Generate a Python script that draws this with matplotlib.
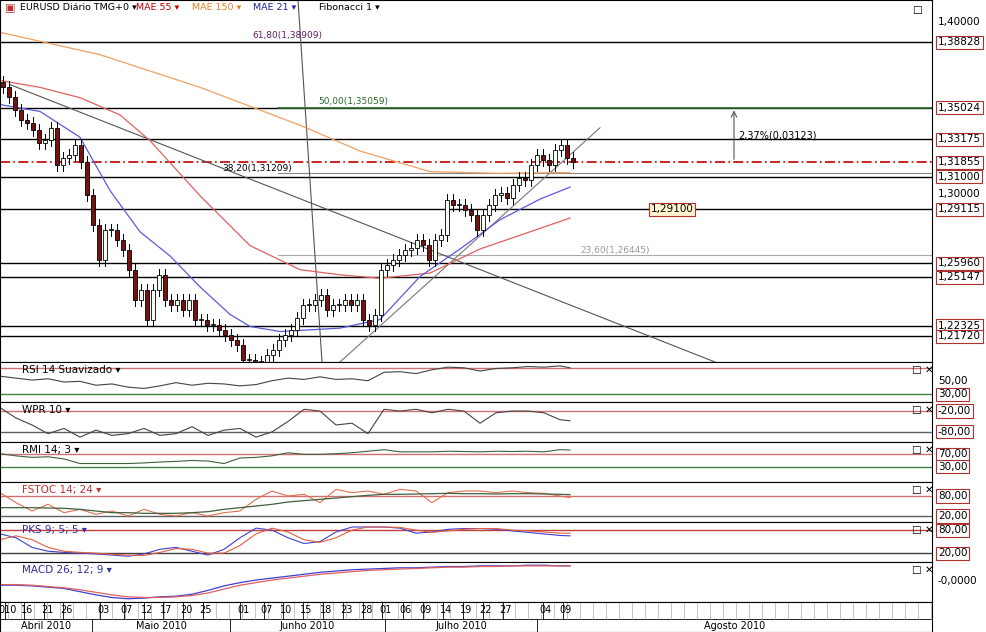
import matplotlib.pyplot as plt

# ---- data ----
closes = [1.3622, 1.3564, 1.3489, 1.3431, 1.3413, 1.3373, 1.3297, 1.3314, 1.3384, 1.3169,
          1.3210, 1.3227, 1.3285, 1.3187, 1.2995, 1.2821, 1.2617, 1.2791, 1.2791, 1.2733,
          1.2675, 1.2559, 1.2384, 1.2442, 1.2268, 1.2442, 1.2530, 1.2384, 1.2355, 1.2384,
          1.2326, 1.2384, 1.2268, 1.2268, 1.2239, 1.2239, 1.2210, 1.2181, 1.2152, 1.2123,
          1.2035, 1.2035, 1.2024, 1.2024, 1.2064, 1.2093, 1.2152, 1.2181, 1.2210, 1.2280,
          1.2355, 1.2355, 1.2384, 1.2413, 1.2326, 1.2355, 1.2355, 1.2384, 1.2355, 1.2384,
          1.2268, 1.2239, 1.2297, 1.2559, 1.2588, 1.2617, 1.2646, 1.2675, 1.2687, 1.2733,
          1.2704, 1.2617, 1.2733, 1.2762, 1.2966, 1.2937, 1.2937, 1.2908, 1.2879, 1.2791,
          1.2879, 1.2937, 1.2995, 1.3007, 1.2978, 1.3053, 1.3094, 1.3082, 1.3169, 1.3227,
          1.3198, 1.3169, 1.3256, 1.3285, 1.3210, 1.3187]

levels = [1.38828, 1.35024, 1.33175, 1.31000, 1.29115, 1.25960, 1.25147, 1.22325, 1.21720]
level_labels = ["1,38828", "1,35024", "1,33175", "1,31000", "1,29115", "1,25960", "1,25147", "1,22325", "1,21720"]
current = 1.31855

ma150_x = [0, 100, 200, 300, 360, 430, 500, 570]
ma150_y = [1.3940, 1.3810, 1.3620, 1.3400, 1.3250, 1.3130, 1.3120, 1.3125]
ma55_x = [0, 40, 80, 120, 150, 200, 250, 300, 340, 380, 430, 480, 530, 570]
ma55_y = [1.3660, 1.3620, 1.3560, 1.3460, 1.3310, 1.2990, 1.2700, 1.2560, 1.2530, 1.2510, 1.2540, 1.2680, 1.2780, 1.2860]
ma21_x = [0, 40, 80, 110, 140, 170, 200, 230, 250, 280, 310, 340, 380, 420, 460, 500, 540, 570]
ma21_y = [1.3520, 1.3480, 1.3330, 1.3020, 1.2780, 1.2640, 1.2460, 1.2300, 1.2230, 1.2200, 1.2210, 1.2220, 1.2270, 1.2520, 1.2680, 1.2850, 1.2970, 1.3040]

ind_x = [0, 16, 32, 48, 64, 80, 96, 112, 128, 144, 160, 176, 192, 208, 224, 240, 256, 272, 288, 304,
         320, 336, 352, 368, 384, 400, 416, 432, 448, 464, 480, 496, 512, 528, 544, 560, 570]
rsi = [58, 55, 52, 54, 49, 50, 44, 46, 41, 39, 43, 48, 44, 47, 46, 43, 45, 51, 55, 53,
       57, 53, 54, 51, 64, 65, 62, 68, 72, 71, 66, 70, 71, 73, 72, 74, 71]
wpr = [-10, -40, -60, -85, -70, -95, -75, -90, -85, -70, -90, -85, -65, -90, -75, -70, -95, -80, -50, -15,
       -20, -60, -55, -85, -15, -20, -15, -25, -15, -20, -55, -25, -20, -20, -25, -45, -48]
rmi = [72, 65, 60, 62, 55, 40, 40, 40, 40, 42, 45, 47, 50, 48, 40, 58, 60, 65, 75, 70,
       70, 72, 75, 80, 85, 78, 78, 78, 80, 79, 78, 80, 79, 80, 78, 85, 84]
fst_fast = [90, 60, 35, 55, 30, 40, 25, 35, 20, 40, 25, 20, 30, 20, 30, 35, 70, 95, 80, 85,
            60, 100, 90, 95, 85, 100, 95, 60, 90, 95, 95, 90, 95, 90, 88, 80, 75]
fst_slow = [45, 45, 45, 44, 43, 40, 35, 30, 30, 28, 28, 28, 30, 33, 40, 45, 50, 55, 62, 66,
            70, 74, 78, 82, 85, 85, 86, 87, 88, 87, 87, 86, 87, 87, 86, 85, 84]
pks_blue = [70, 60, 35, 25, 22, 20, 18, 15, 12, 18, 30, 35, 25, 15, 30, 60, 85, 80, 60, 45,
            50, 75, 88, 88, 88, 85, 72, 75, 82, 84, 84, 82, 78, 74, 70, 66, 65]
pks_red = [55, 65, 55, 35, 25, 22, 20, 17, 15, 14, 22, 32, 30, 20, 20, 40, 70, 85, 75, 55,
           48, 60, 80, 88, 88, 87, 80, 74, 78, 82, 84, 84, 80, 78, 75, 72, 72]
macd_blue = [-0.006, -0.006, -0.007, -0.009, -0.011, -0.016, -0.021, -0.025, -0.027, -0.026, -0.024, -0.023, -0.020, -0.014, -0.007,
             -0.002, 0.002, 0.005, 0.008, 0.011, 0.014, 0.016, 0.018, 0.019, 0.020, 0.021, 0.021, 0.022, 0.023, 0.023,
             0.024, 0.024, 0.024, 0.025, 0.025, 0.024, 0.024]
macd_red = [-0.005, -0.005, -0.006, -0.008, -0.010, -0.013, -0.017, -0.021, -0.024, -0.025, -0.025, -0.024, -0.022, -0.018, -0.012,
            -0.006, -0.002, 0.002, 0.005, 0.008, 0.011, 0.013, 0.015, 0.017, 0.018, 0.019, 0.020, 0.021, 0.022, 0.022,
            0.023, 0.023, 0.024, 0.024, 0.024, 0.024, 0.024]

day_ticks = ["010", "16", "21", "26", "03", "07", "12", "17", "20", "25", "01", "07", "10", "15", "18", "23", "28",
             "01", "06", "09", "14", "19", "22", "27", "04", "09"]
day_x = [8, 27, 47, 66, 103, 127, 147, 166, 186, 206, 243, 267, 286, 306, 326, 346, 366,
         385, 406, 426, 446, 466, 486, 506, 546, 566]
months = ["Abril 2010", "Maio 2010", "Junho 2010", "Julho 2010", "Agosto 2010"]
month_x = [0, 92, 230, 385, 537, 932]

W, H = 986, 632
fig = plt.figure(figsize=(9.86, 6.32), dpi=100, facecolor="white")


def pax(x0, y0, x1, y1):
    ax = fig.add_axes([x0 / W, 1 - y1 / H, (x1 - x0) / W, (y1 - y0) / H])
    ax.set_xlim(0, 932)
    ax.set_xticks([])
    ax.set_yticks([])
    for s in ax.spines.values():
        s.set_color("black")
        s.set_linewidth(0.8)
    return ax


def tag(y, text, boxed=True, ec="#b03030"):
    fig.text(938 / W, 1 - y / H, text, fontsize=7.5, va="center", ha="left",
             bbox=dict(boxstyle="square,pad=0.15", fc="white", ec=ec, lw=0.8) if boxed else None)


# ---- main price panel ----
P_TOP, P_BOT = 1.4128, 1.2023
ax = pax(0, 0, 932, 362)
ax.set_ylim(P_BOT, P_TOP)

def py(p):
    return (P_TOP - p) / (P_TOP - P_BOT) * 362

for lv, lb in zip(levels, level_labels):
    ax.axhline(lv, color="black", lw=1.0)
    tag(py(lv), lb)
ax.axhline(1.35024, xmin=278 / 932, color="#2a6a2a", lw=1.2)
ax.axhline(current, color="#c00000", lw=1.2, ls=(0, (6, 2, 1, 2)))
tag(py(current), "1,31855")
tag(py(1.40), "1,40000", boxed=False)
tag(py(1.30), "1,30000", boxed=False)
ax.plot([278, 932], [1.31209, 1.31209], color="#888888", lw=0.8)
ax.plot([278, 932], [1.26445, 1.26445], color="#aaaaaa", lw=0.8)
ax.text(252, 1.38909 + 0.0015, "61,80(1,38909)", fontsize=6.5, color="#602060")
ax.text(318, 1.35059 + 0.002, "50,00(1,35059)", fontsize=6.5, color="#2a6a2a")
ax.text(222, 1.31209 + 0.0015, "38,20(1,31209)", fontsize=6.5, color="black")
ax.text(580, 1.26445 + 0.0015, "23,60(1,26445)", fontsize=6.5, color="#999999")
ax.text(672, 1.29100, "1,29100", fontsize=7.5, ha="center", va="center",
        bbox=dict(boxstyle="square,pad=0.15", fc="#fff3d0", ec="#b03030", lw=0.8))
ax.annotate("", xy=(734, 1.35024), xytext=(734, 1.31855),
            arrowprops=dict(arrowstyle="->", color="#555555", lw=0.8))
ax.text(738, 1.334, "2,37%(0,03123)", fontsize=7, va="center")
ax.text(912, 0.985, "□", transform=ax.get_xaxis_transform(), fontsize=7.5, va="top")

# trendlines
ax.plot([10, 715], [1.3636, 1.2023], color="#555555", lw=0.8)
ax.plot([340, 600], [1.2023, 1.3385], color="#777777", lw=0.8)
ax.plot([298, 322], [P_TOP, P_BOT], color="#555555", lw=0.8)

ax.plot(ma150_x, ma150_y, color="#f0a060", lw=0.9)
ax.plot(ma55_x, ma55_y, color="#e06060", lw=0.9)
ax.plot(ma21_x, ma21_y, color="#5a5adc", lw=0.9)

for i, c in enumerate(closes):
    o = closes[i - 1] if i else c + 0.003
    x = 3 + 6 * i
    hi, lo = max(o, c) + 0.0035, min(o, c) - 0.0035
    ax.plot([x, x], [lo, hi], color="black", lw=0.7, zorder=3)
    up = c >= o
    ax.bar(x, abs(c - o) or 0.0005, bottom=min(o, c), width=3.5,
           color="#f4fff0" if up else "#7a1010", edgecolor="black", lw=0.6, zorder=4)

fig.text(0.005, 1 - 8 / H, "▣", fontsize=8, color="#c03030", va="center")
hdr = [("EURUSD Diário TMG+0 ▾", "black", 20), ("MAE 55 ▾", "#c00000", 136),
       ("MAE 150 ▾", "#e08020", 192), ("MAE 21 ▾", "#2020a0", 253), ("Fibonacci 1 ▾", "black", 319)]
for t, col, x in hdr:
    fig.text(x / W, 1 - 8 / H, t, fontsize=6.8, color=col, va="center")


def ind_panel(y0, y1, lims, name, ncol, hlines, labels):
    a = pax(0, y0, 932, y1)
    a.set_ylim(*lims)
    for v, col in hlines:
        a.axhline(v, color=col, lw=1.0)
    a.text(22, 0.93, name, transform=a.get_xaxis_transform(), fontsize=7.5, color=ncol, va="top")
    a.text(912, 0.93, "□ ✕", transform=a.get_xaxis_transform(), fontsize=7.5, va="top")
    for v, t, boxed in labels:
        yp = y0 + (lims[1] - v) / (lims[1] - lims[0]) * (y1 - y0)
        tag(yp, t, boxed)
    return a


a = ind_panel(362, 402, (18, 80), "RSI 14 Suavizado ▾", "black",
              [(70, "#d07070"), (30, "#408040")], [(50, "50,00", False), (30, "30,00", True)])
a.plot(ind_x, rsi, color="#444444", lw=0.8)

a = ind_panel(402, 442, (-109, 6), "WPR 10 ▾", "black",
              [(-20, "#d07070"), (-80, "#606060")], [(-20, "-20,00", True), (-80, "-80,00", True)])
a.plot(ind_x, wpr, color="#444444", lw=0.8)

a = ind_panel(442, 482, (-20, 110), "RMI 14; 3 ▾", "black",
              [(70, "#d07070"), (30, "#408040")], [(70, "70,00", True), (30, "30,00", True)])
a.plot(ind_x, rmi, color="#406040", lw=0.8)

a = ind_panel(482, 522, (2, 122), "FSTOC 14; 24 ▾", "#c03030",
              [(80, "#d07070"), (20, "#606060")], [(80, "80,00", True), (20, "20,00", True)])
a.plot(ind_x, fst_fast, color="#e07050", lw=0.8)
a.plot(ind_x, fst_slow, color="#406040", lw=0.9)

a = ind_panel(522, 562, (-3, 101), "PKS 9; 5; 5 ▾", "#3030a0",
              [(80, "#c04040"), (20, "#404040")], [(80, "80,00", True), (20, "20,00", True)])
a.plot(ind_x, pks_blue, color="#4040d0", lw=0.8)
a.plot(ind_x, pks_red, color="#e06040", lw=0.8)

a = ind_panel(562, 602, (-0.032, 0.03), "MACD 26; 12; 9 ▾", "#3030a0", [], [(0.0, "-0,0000", False)])
a.plot(ind_x, macd_blue, color="#4040d0", lw=0.9)
a.plot(ind_x, macd_red, color="#e06060", lw=0.9)

# date axis
d = pax(0, 602, 932, 632)
d.set_ylim(0, 1)
d.axhline(0.42, color="black", lw=0.6)
for x in range(8, 932, 13):
    d.plot([x, x], [0.42, 1], color="#999999", lw=0.4)
for x, t in zip(day_x, day_ticks):
    d.plot([x - 3, x - 3], [0.42, 1], color="black", lw=0.6)
    d.text(x, 0.72, t, fontsize=7, ha="center", va="center")
for i, m in enumerate(months):
    d.plot([month_x[i], month_x[i]], [0, 0.42], color="black", lw=0.6)
    d.text((month_x[i] + month_x[i + 1]) / 2, 0.2, m, fontsize=7, ha="center", va="center")

fig.savefig("out.png", dpi=100)
